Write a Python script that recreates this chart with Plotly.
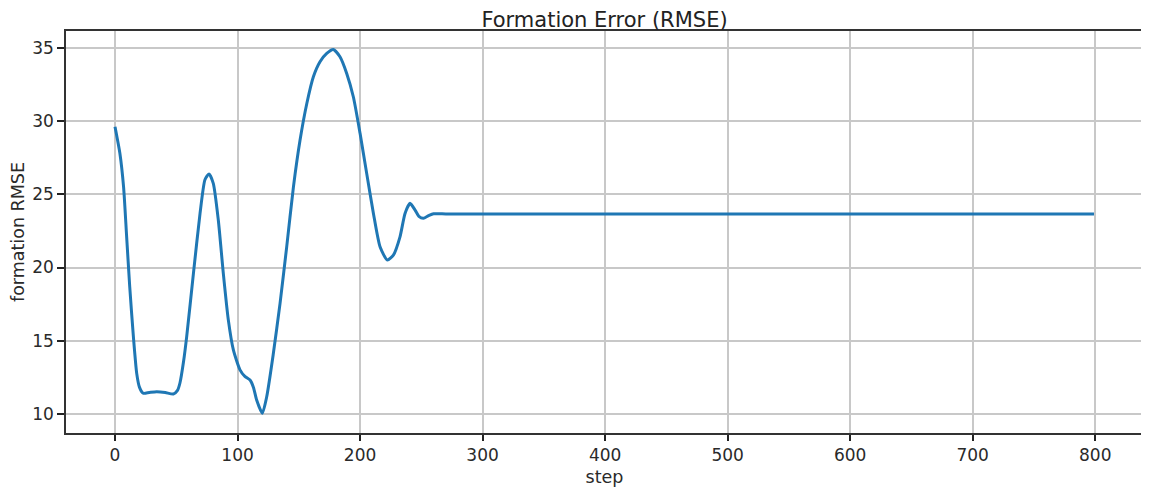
import plotly.graph_objects as go

# values
steps = [0, 4, 7, 9.5, 12, 15, 17.7, 20, 23, 28, 34, 41, 47.6, 51, 53, 56, 58.5, 64, 69.4,
         73.4, 76.7, 80.2, 84.3, 88.4, 92.5, 96.6, 102, 106, 110.2, 113, 115.6, 120.2,
         123.8, 129.2, 134.7, 140.1, 145.6, 151, 156.5, 161.9, 167.3, 172.8, 178.2,
         183.6, 189.1, 194.5, 200, 205.4, 210.9, 216.3, 222.3, 227.2, 232.6, 236.7,
         240.8, 244.9, 248, 251.7, 256, 260, 270, 282, 400, 600, 799]
rmse = [29.63, 27.8, 25.5, 22.1, 18.7, 15.27, 12.76, 11.8, 11.4, 11.45, 11.5, 11.45, 11.35,
        11.6, 12.1, 13.6, 15.27, 19.6, 23.7,
        26.0, 26.4, 25.76, 23.25, 19.6, 16.4, 14.36, 13.0, 12.55, 12.3, 11.8, 10.94, 10.03,
        11.16, 14.1, 17.55, 21.4, 25.5, 28.7, 31.2, 33.05, 34.08, 34.65, 34.92,
        34.42, 33.28, 31.68, 29.18, 26.44, 23.7, 21.42, 20.51, 20.85, 22.1, 23.7,
        24.39, 23.93, 23.5, 23.37, 23.55, 23.68, 23.66, 23.66, 23.66, 23.66, 23.66]

x_ticks = list(range(0, 801, 100))
y_ticks = [10, 15, 20, 25, 30, 35]

fig = go.Figure()
fig.add_trace(go.Scatter(x=steps, y=rmse, mode='lines',
                         line=dict(color='#1f77b4', width=3, shape='spline', smoothing=0.6)))

axis_style = dict(showline=True, mirror=True, linecolor='#333', linewidth=1.6,
                  ticks='outside', tickwidth=1.6, tickcolor='#222',
                  showgrid=True, gridcolor='#c8c8c8', gridwidth=1.6, zeroline=False,
                  automargin=False,
                  tickfont=dict(family='DejaVu Sans', size=17, color='#2a2a2a'))

label_font = dict(family='DejaVu Sans', size=17.5, color='#2a2a2a')

# the page body adds ~8px offset, so the figure is sized a bit smaller
fig.update_layout(
    width=1141, height=486,
    margin=dict(l=58, r=6, t=23, b=61),
    paper_bgcolor='white', plot_bgcolor='white',
    showlegend=False,
    title=dict(text='Formation Error (RMSE)', xref='paper', x=0.5, xanchor='center',
               yref='container', y=1, yanchor='top', pad=dict(t=4),
               font=dict(family='DejaVu Sans', size=21, color='#222')),
    font=dict(family='DejaVu Sans', color='#222'),
)
fig.update_xaxes(range=[-40, 839], tickvals=x_ticks, ticklen=6, **axis_style,
                 title=dict(text='step', font=label_font, standoff=7))
fig.update_yaxes(range=[8.68, 36.18], tickvals=y_ticks, ticklen=7, **axis_style,
                 title=dict(text='formation RMSE', font=label_font, standoff=19))

fig.write_html("out.html")
